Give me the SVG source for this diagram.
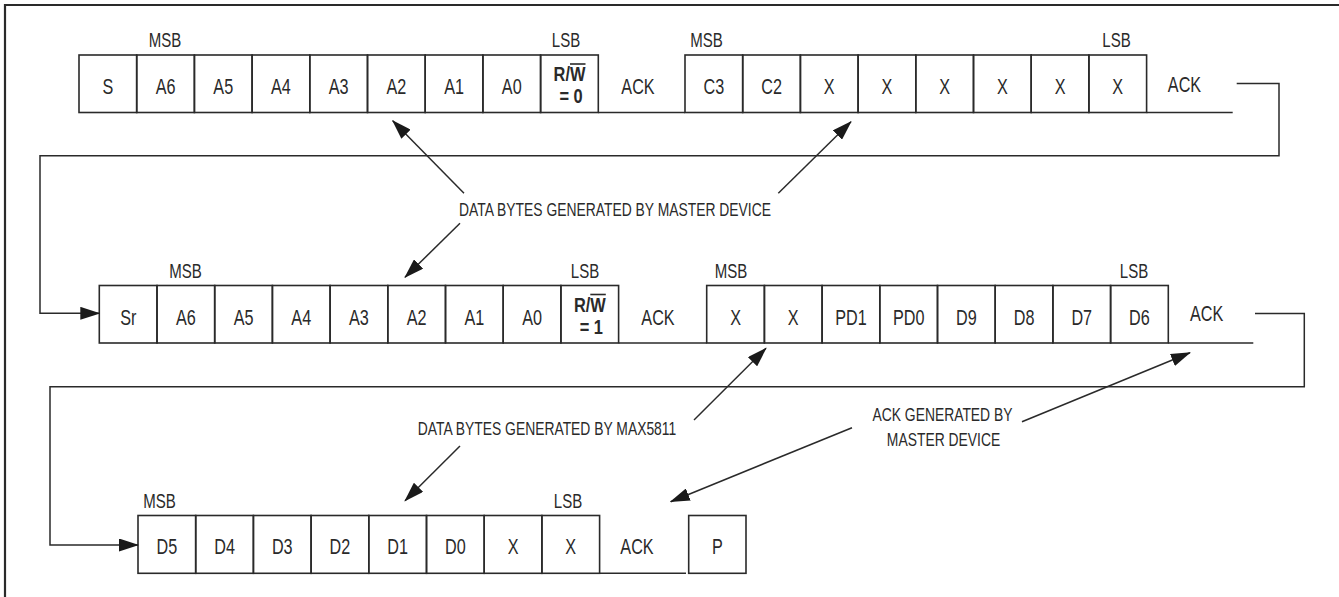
<svg xmlns="http://www.w3.org/2000/svg" width="1339" height="597" viewBox="0 0 1339 597">
<style>
.c{fill:none;stroke:#2a2a2a;stroke-width:1.6}
.ln{fill:none;stroke:#2a2a2a;stroke-width:1.6}
.fr{fill:none;stroke:#2a2a2a;stroke-width:2.2}
.ar{fill:none;stroke:#2a2a2a;stroke-width:1.5;marker-end:url(#ah)}
text{font-family:"Liberation Sans",Arial,sans-serif;fill:#2a2a2a;text-anchor:middle;transform-box:fill-box;transform-origin:center}
.t{font-size:22.5px;transform:scaleX(0.72)}
.b{font-size:20px;font-weight:bold;transform:scaleX(0.82)}
.l{font-size:19.5px;transform:scaleX(0.77)}
.n{font-size:18.5px;transform:scaleX(0.75)}
</style>
<defs>
<marker id="ah" markerUnits="userSpaceOnUse" markerWidth="20" markerHeight="13" refX="19" refY="6.5" orient="auto">
<path d="M0,0 L20,6.5 L0,13 z" fill="#1a1a1a"/>
</marker>
</defs>
<rect width="1339" height="597" fill="#fff"/>
<path class="fr" d="M5,597 V5 H1339"/>

<!-- Row 1 -->
<g id="row1">
<g id="r1-S"><rect class="c" x="79" y="55" width="57.7" height="57.5"/><text class="t" x="107.85" y="94">S</text></g>
<g id="r1-A6"><rect class="c" x="136.7" y="55" width="57.7" height="57.5"/><text class="t" x="165.55" y="94">A6</text></g>
<g id="r1-A5"><rect class="c" x="194.4" y="55" width="57.7" height="57.5"/><text class="t" x="223.25" y="94">A5</text></g>
<g id="r1-A4"><rect class="c" x="252.1" y="55" width="57.7" height="57.5"/><text class="t" x="280.95" y="94">A4</text></g>
<g id="r1-A3"><rect class="c" x="309.8" y="55" width="57.7" height="57.5"/><text class="t" x="338.65" y="94">A3</text></g>
<g id="r1-A2"><rect class="c" x="367.5" y="55" width="57.7" height="57.5"/><text class="t" x="396.35" y="94">A2</text></g>
<g id="r1-A1"><rect class="c" x="425.2" y="55" width="57.7" height="57.5"/><text class="t" x="454.05" y="94">A1</text></g>
<g id="r1-A0"><rect class="c" x="482.9" y="55" width="57.7" height="57.5"/><text class="t" x="511.75" y="94">A0</text></g>
<g id="r1-RW"><rect class="c" x="540.6" y="55" width="57.7" height="57.5"/><text class="b" x="569.45" y="81.5">R/W</text><line class="ln" x1="570" y1="64" x2="585.5" y2="64"/><text class="b" x="571" y="103.5">= 0</text></g>
<g id="r1-ACK1"><line class="ln" x1="598.3" y1="112.5" x2="685" y2="112.5"/><text class="t" x="638" y="94">ACK</text></g>
<g id="r1-C3"><rect class="c" x="685" y="55" width="57.7" height="57.5"/><text class="t" x="713.85" y="94">C3</text></g>
<g id="r1-C2"><rect class="c" x="742.7" y="55" width="57.7" height="57.5"/><text class="t" x="771.55" y="94">C2</text></g>
<g id="r1-X1"><rect class="c" x="800.4" y="55" width="57.7" height="57.5"/><text class="t" x="829.25" y="94">X</text></g>
<g id="r1-X2"><rect class="c" x="858.1" y="55" width="57.7" height="57.5"/><text class="t" x="886.95" y="94">X</text></g>
<g id="r1-X3"><rect class="c" x="915.8" y="55" width="57.7" height="57.5"/><text class="t" x="944.65" y="94">X</text></g>
<g id="r1-X4"><rect class="c" x="973.5" y="55" width="57.7" height="57.5"/><text class="t" x="1002.35" y="94">X</text></g>
<g id="r1-X5"><rect class="c" x="1031.2" y="55" width="57.7" height="57.5"/><text class="t" x="1060.05" y="94">X</text></g>
<g id="r1-X6"><rect class="c" x="1088.9" y="55" width="57.7" height="57.5"/><text class="t" x="1117.75" y="94">X</text></g>
<g id="r1-ACK2"><line class="ln" x1="1146.6" y1="112.5" x2="1232.7" y2="112.5"/><text class="t" x="1184.5" y="92">ACK</text></g>
<g id="r1-labels"><text class="l" x="165" y="47">MSB</text><text class="l" x="566" y="47">LSB</text><text class="l" x="706.5" y="47">MSB</text><text class="l" x="1116.5" y="47">LSB</text></g>
</g>

<!-- Row 2 -->
<g id="row2">
<g id="r2-Sr"><rect class="c" x="99.3" y="285.5" width="57.7" height="57.5"/><text class="t" x="128.15" y="325">Sr</text></g>
<g id="r2-A6"><rect class="c" x="157" y="285.5" width="57.7" height="57.5"/><text class="t" x="185.85" y="325">A6</text></g>
<g id="r2-A5"><rect class="c" x="214.7" y="285.5" width="57.7" height="57.5"/><text class="t" x="243.55" y="325">A5</text></g>
<g id="r2-A4"><rect class="c" x="272.4" y="285.5" width="57.7" height="57.5"/><text class="t" x="301.25" y="325">A4</text></g>
<g id="r2-A3"><rect class="c" x="330.1" y="285.5" width="57.7" height="57.5"/><text class="t" x="358.95" y="325">A3</text></g>
<g id="r2-A2"><rect class="c" x="387.8" y="285.5" width="57.7" height="57.5"/><text class="t" x="416.65" y="325">A2</text></g>
<g id="r2-A1"><rect class="c" x="445.5" y="285.5" width="57.7" height="57.5"/><text class="t" x="474.35" y="325">A1</text></g>
<g id="r2-A0"><rect class="c" x="503.2" y="285.5" width="57.7" height="57.5"/><text class="t" x="532.05" y="325">A0</text></g>
<g id="r2-RW"><rect class="c" x="560.9" y="285.5" width="57.7" height="57.5"/><text class="b" x="589.75" y="312">R/W</text><line class="ln" x1="590.3" y1="294.5" x2="605.8" y2="294.5"/><text class="b" x="591.3" y="334">= 1</text></g>
<g id="r2-ACK1"><line class="ln" x1="618.6" y1="343" x2="706.7" y2="343"/><text class="t" x="658" y="325">ACK</text></g>
<g id="r2-X1"><rect class="c" x="706.7" y="285.5" width="57.7" height="57.5"/><text class="t" x="735.55" y="325">X</text></g>
<g id="r2-X2"><rect class="c" x="764.4" y="285.5" width="57.7" height="57.5"/><text class="t" x="793.25" y="325">X</text></g>
<g id="r2-PD1"><rect class="c" x="822.1" y="285.5" width="57.7" height="57.5"/><text class="t" x="850.95" y="325">PD1</text></g>
<g id="r2-PD0"><rect class="c" x="879.8" y="285.5" width="57.7" height="57.5"/><text class="t" x="908.65" y="325">PD0</text></g>
<g id="r2-D9"><rect class="c" x="937.5" y="285.5" width="57.7" height="57.5"/><text class="t" x="966.35" y="325">D9</text></g>
<g id="r2-D8"><rect class="c" x="995.2" y="285.5" width="57.7" height="57.5"/><text class="t" x="1024.05" y="325">D8</text></g>
<g id="r2-D7"><rect class="c" x="1052.9" y="285.5" width="57.7" height="57.5"/><text class="t" x="1081.75" y="325">D7</text></g>
<g id="r2-D6"><rect class="c" x="1110.6" y="285.5" width="57.7" height="57.5"/><text class="t" x="1139.45" y="325">D6</text></g>
<g id="r2-ACK2"><line class="ln" x1="1168.3" y1="343" x2="1253.3" y2="343"/><text class="t" x="1206.7" y="321">ACK</text></g>
<g id="r2-labels"><text class="l" x="185.5" y="278">MSB</text><text class="l" x="585" y="278">LSB</text><text class="l" x="731" y="278">MSB</text><text class="l" x="1134" y="278">LSB</text></g>
</g>

<!-- Row 3 -->
<g id="row3">
<g id="r3-D5"><rect class="c" x="138" y="515.5" width="57.7" height="57.8"/><text class="t" x="166.85" y="554.5">D5</text></g>
<g id="r3-D4"><rect class="c" x="195.7" y="515.5" width="57.7" height="57.8"/><text class="t" x="224.55" y="554.5">D4</text></g>
<g id="r3-D3"><rect class="c" x="253.4" y="515.5" width="57.7" height="57.8"/><text class="t" x="282.25" y="554.5">D3</text></g>
<g id="r3-D2"><rect class="c" x="311.1" y="515.5" width="57.7" height="57.8"/><text class="t" x="339.95" y="554.5">D2</text></g>
<g id="r3-D1"><rect class="c" x="368.8" y="515.5" width="57.7" height="57.8"/><text class="t" x="397.65" y="554.5">D1</text></g>
<g id="r3-D0"><rect class="c" x="426.5" y="515.5" width="57.7" height="57.8"/><text class="t" x="455.35" y="554.5">D0</text></g>
<g id="r3-X1"><rect class="c" x="484.2" y="515.5" width="57.7" height="57.8"/><text class="t" x="513.05" y="554.5">X</text></g>
<g id="r3-X2"><rect class="c" x="541.9" y="515.5" width="57.7" height="57.8"/><text class="t" x="570.75" y="554.5">X</text></g>
<g id="r3-ACK"><line class="ln" x1="599.6" y1="573.3" x2="686" y2="573.3"/><text class="t" x="637" y="554.5">ACK</text></g>
<g id="r3-P"><rect class="c" x="688.7" y="515.5" width="57.3" height="57.8"/><text class="t" x="717.35" y="554.5">P</text></g>
<g id="r3-labels"><text class="l" x="159.5" y="508">MSB</text><text class="l" x="568" y="508">LSB</text></g>
</g>

<!-- Annotations -->
<g id="notes">
<text class="n" x="615" y="216">DATA BYTES GENERATED BY MASTER DEVICE</text>
<text class="n" x="547" y="435">DATA BYTES GENERATED BY MAX5811</text>
<text class="n" x="942.5" y="421.5">ACK GENERATED BY</text>
<text class="n" x="943.5" y="446">MASTER DEVICE</text>
</g>

<!-- Connectors -->
<g id="connectors">
<path class="ar" d="M1236.7,83.5 H1279 V155.7 H40 V313.3 H99.3"/>
<path class="ar" d="M1255,313.5 H1304.3 V386.7 H50 V545 H138"/>
<line class="ar" x1="464" y1="193.3" x2="392.7" y2="120.7"/>
<line class="ar" x1="778.3" y1="193.3" x2="851" y2="121.7"/>
<line class="ar" x1="460" y1="223.3" x2="405" y2="277.3"/>
<line class="ar" x1="694" y1="420" x2="766" y2="348.3"/>
<line class="ar" x1="460" y1="446" x2="405" y2="500.7"/>
<line class="ar" x1="1022" y1="421.7" x2="1190" y2="352.7"/>
<line class="ar" x1="852" y1="427.7" x2="670.7" y2="501.7"/>
</g>
</svg>
